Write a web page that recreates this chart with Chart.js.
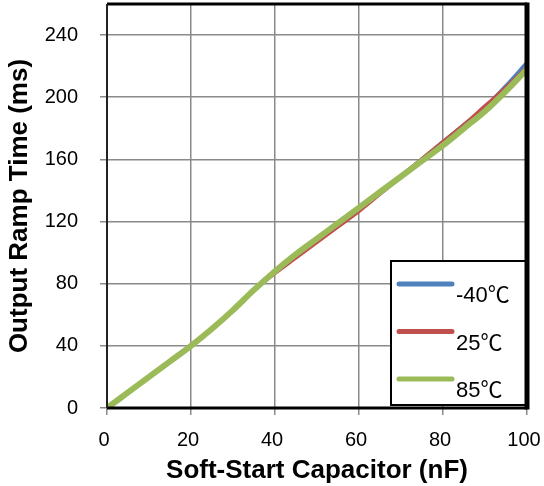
<!DOCTYPE html>
<html>
<head>
<meta charset="utf-8">
<script src="https://cdn.jsdelivr.net/npm/chart.js@4.4.1/dist/chart.umd.min.js"></script>
<style>
  html, body { margin: 0; padding: 0; background: #fff; }
  #wrap { width: 544px; height: 486px; }
</style>
</head>
<body>
<div id="wrap"><canvas id="myChart" width="544" height="486"></canvas></div>
<script>
// capacitor values (nF)
const capValues = [0, 5, 10, 15, 20, 25, 30, 35, 40, 45, 50, 55, 60, 65, 70, 75, 80, 85, 90, 95, 100];
// output ramp time (ms) per temperature
const rampMinus40 = [0, 10, 20, 30, 40, 51, 63, 76, 88, 99, 109, 119, 129, 139, 149, 160, 171, 182, 193, 207, 222];
const ramp25 = [0, 10, 20, 30, 40, 51, 63, 76, 87, 97, 107, 117, 127, 138, 149, 160, 171, 182, 194, 206, 219];
const ramp85 = [0, 10, 20, 30, 40, 51, 63, 76, 88, 99, 109, 119, 129, 139, 149, 159, 169, 180, 191, 204, 218];

const seriesLabels = ["-40℃", "25℃", "85℃"];
const seriesColors = ["#4F81BD", "#C0504D", "#9BBB59"];

const xTicks = [0, 20, 40, 60, 80, 100];
const yTicks = [0, 40, 80, 120, 160, 200, 240];

const fontName = "'Liberation Sans', Arial, sans-serif";
const legendFont = "'Liberation Sans', 'Noto Sans CJK SC', sans-serif";

const toPoints = (ys) => capValues.map((x, i) => ({ x: x, y: ys[i] }));

// border round the plot area, thick on the right like the original
const frame = {
  id: "frame",
  afterDraw(chart) {
    const { ctx, chartArea: a } = chart;
    ctx.save();
    ctx.strokeStyle = "#000";
    ctx.lineWidth = 3;
    ctx.beginPath();
    ctx.moveTo(a.left, a.top);
    ctx.lineTo(a.right, a.top);
    ctx.moveTo(a.left, a.bottom);
    ctx.lineTo(a.right, a.bottom);
    ctx.stroke();
    ctx.strokeStyle = "#222";
    ctx.lineWidth = 2;
    ctx.beginPath();
    ctx.moveTo(a.left, a.top);
    ctx.lineTo(a.left, a.bottom);
    ctx.stroke();
    ctx.strokeStyle = "#000";
    ctx.lineWidth = 5;
    ctx.beginPath();
    ctx.moveTo(a.right, a.top - 1.5);
    ctx.lineTo(a.right, a.bottom + 1.5);
    ctx.stroke();
    ctx.restore();
  }
};

// legend box inside the plot, bottom right
const boxLegend = {
  id: "boxLegend",
  afterDatasetsDraw(chart) {
    const { ctx, chartArea: a } = chart;
    const w = 136, h = 144;
    const left = a.right - w, top = a.bottom - 3 - h;
    ctx.save();
    ctx.fillStyle = "#fff";
    ctx.fillRect(left, top, w, h);
    ctx.strokeStyle = "#000";
    ctx.lineWidth = 2;
    ctx.strokeRect(left, top, w, h);
    ctx.font = "22px " + legendFont;
    ctx.textBaseline = "alphabetic";
    ctx.textAlign = "left";
    chart.data.datasets.forEach((ds, i) => {
      const y = top + 23 + i * 47.5;
      ctx.strokeStyle = ds.borderColor;
      ctx.lineWidth = 5;
      ctx.lineCap = "round";
      ctx.beginPath();
      ctx.moveTo(left + 8, y);
      ctx.lineTo(left + 61, y);
      ctx.stroke();
      ctx.fillStyle = "#000";
      ctx.fillText(ds.label, left + 65, y + 18);
    });
    ctx.restore();
  }
};

const ctx = document.getElementById("myChart").getContext("2d");
const myChart = new Chart(ctx, {
  type: "line",
  data: {
    datasets: [
      { label: seriesLabels[0], data: toPoints(rampMinus40), borderColor: seriesColors[0], borderWidth: 4.5, order: 3 },
      { label: seriesLabels[1], data: toPoints(ramp25), borderColor: seriesColors[1], borderWidth: 4.5, order: 2 },
      { label: seriesLabels[2], data: toPoints(ramp85), borderColor: seriesColors[2], borderWidth: 6, order: 1 }
    ]
  },
  options: {
    responsive: false,
    animation: false,
    layout: { padding: { top: 4, right: 17, left: 0, bottom: 0 } },
    elements: {
      point: { radius: 0 },
      line: { cubicInterpolationMode: "monotone", borderCapStyle: "round", fill: false }
    },
    plugins: {
      legend: { display: false },
      tooltip: { enabled: false }
    },
    scales: {
      x: {
        type: "linear",
        min: 0,
        max: 100,
        afterBuildTicks: (scale) => { scale.ticks = xTicks.map(v => ({ value: v })); },
        afterFit: (scale) => {
          scale.height = 78;
          scale.paddingLeft = 0;
          scale.paddingRight = 0;
        },
        border: { display: false },
        grid: { color: "#8a8a8a", lineWidth: 1.5, tickLength: 7 },
        ticks: { color: "#000", font: { family: fontName, size: 20 }, padding: 13, labelOffset: -3, maxRotation: 0 },
        title: {
          display: true,
          text: "Soft-Start Capacitor (nF)",
          color: "#000",
          font: { family: fontName, size: 26, weight: "bold" },
          padding: { top: 4, bottom: 0 }
        }
      },
      y: {
        type: "linear",
        min: 0,
        max: 260,
        afterBuildTicks: (scale) => { scale.ticks = yTicks.map(v => ({ value: v })); },
        afterFit: (scale) => {
          scale.width = 107;
          scale.paddingTop = 0;
          scale.paddingBottom = 0;
        },
        border: { display: false },
        grid: { color: "#8a8a8a", lineWidth: 1.5, tickLength: 7 },
        ticks: { color: "#000", font: { family: fontName, size: 20 }, padding: 22 },
        title: {
          display: true,
          text: "Output Ramp Time (ms)",
          color: "#000",
          font: { family: fontName, size: 26, weight: "bold" },
          padding: { top: 4, bottom: 0 }
        }
      }
    }
  },
  plugins: [boxLegend, frame]
});
</script>
</body>
</html>
